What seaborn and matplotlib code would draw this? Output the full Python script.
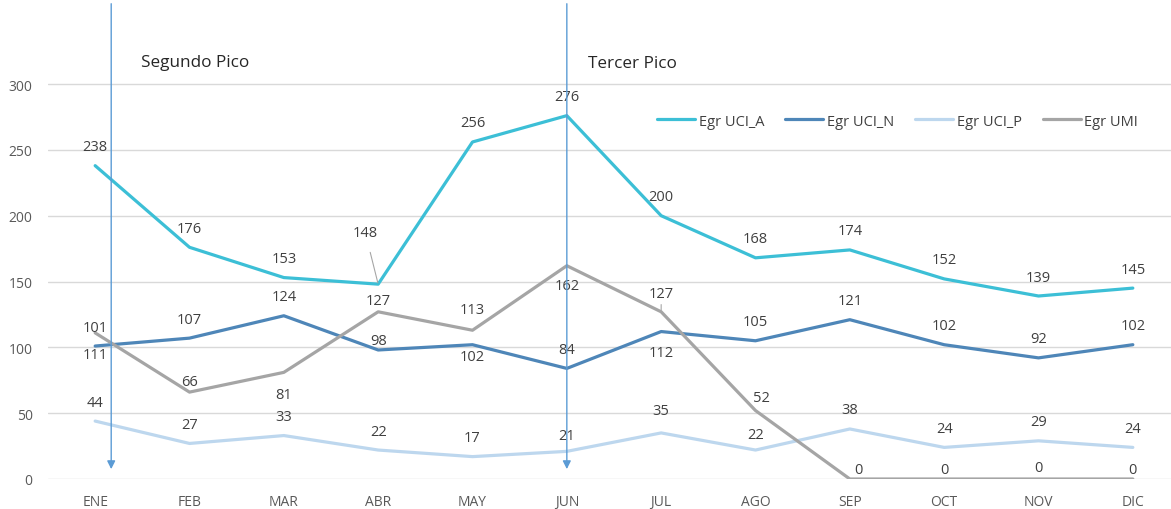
import pandas as pd
import matplotlib
matplotlib.use("Agg")
import matplotlib.pyplot as plt
import seaborn as sns

# Data
months = ["ENE", "FEB", "MAR", "ABR", "MAY", "JUN", "JUL", "AGO", "SEP", "OCT", "NOV", "DIC"]
egr_uci_a = [238, 176, 153, 148, 256, 276, 200, 168, 174, 152, 139, 145]
egr_uci_n = [101, 107, 124, 98, 102, 84, 112, 105, 121, 102, 92, 102]
egr_uci_p = [44, 27, 33, 22, 17, 21, 35, 22, 38, 24, 29, 24]
egr_umi = [111, 66, 81, 127, 113, 162, 127, 52, 0, 0, 0, 0]
series_names = ["Egr UCI_A", "Egr UCI_N", "Egr UCI_P", "Egr UMI"]
peak_months = ["ENE", "JUN"]
peak_names = ["Segundo Pico", "Tercer Pico"]

colors = ["#3cbfd6", "#4e86b8", "#bdd7ee", "#a5a5a5"]

# label placement: (dx px, dy px) relative to the point, positive dy = above
default_off = (0, 19)
label_off = {
    ("Egr UCI_A", "ABR"): (-13, 52),
    ("Egr UCI_N", "ABR"): (0, 9),
    ("Egr UCI_N", "MAY"): (0, -12),
    ("Egr UCI_N", "JUL"): (0, -21),
    ("Egr UCI_P", "JUN"): (0, 16),
    ("Egr UCI_P", "JUL"): (0, 22),
    ("Egr UCI_P", "AGO"): (0, 16),
    ("Egr UMI", "ENE"): (0, -22),
    ("Egr UMI", "FEB"): (0, 11),
    ("Egr UMI", "MAR"): (0, -22),
    ("Egr UMI", "ABR"): (0, 11),
    ("Egr UMI", "MAY"): (0, 21),
    ("Egr UMI", "JUN"): (0, -20),
    ("Egr UMI", "JUL"): (0, 18),
    ("Egr UMI", "AGO"): (6, 13),
    ("Egr UMI", "SEP"): (9, 9),
    ("Egr UMI", "OCT"): (0, 9),
    ("Egr UMI", "NOV"): (0, 11),
    ("Egr UMI", "DIC"): (0, 9),
}
leaders = [("Egr UCI_A", "ABR"), ("Egr UMI", "MAY"), ("Egr UMI", "JUL")]

values = [egr_uci_a, egr_uci_n, egr_uci_p, egr_umi]
df = pd.DataFrame({
    "idx": list(range(len(months))) * len(series_names),
    "mes": months * len(series_names),
    "serie": [s for s in series_names for _ in months],
    "valor": [v for vals in values for v in vals],
})

sns.set_style("white")
plt.rcParams["font.family"] = ["Open Sans", "DejaVu Sans"]

fig = plt.figure(figsize=(11.71, 5.10), dpi=100)
ax = fig.add_axes([48 / 1171, 30 / 510, 1132 / 1171, 480 / 510])

sns.lineplot(data=df, x="idx", y="valor", hue="serie", hue_order=series_names,
             palette=colors, linewidth=2.3, ax=ax, sort=False)

ax.set_xlim(-0.5, 11.5)
ax.set_ylim(0, 364.6)
ax.set_yticks(range(0, 301, 50))
ax.set_xticks(range(len(months)))
ax.set_xticklabels(months)
ax.set_xlabel("")
ax.set_ylabel("")
ax.grid(axis="y", color="#d9d9d9", linewidth=1)
ax.set_axisbelow(True)
for sp in ax.spines.values():
    sp.set_visible(False)
ax.tick_params(axis="both", length=0, labelsize=10, colors="#595959")
ax.tick_params(axis="x", pad=11)
ax.tick_params(axis="y", pad=11)

# data labels
px = 0.72
for name, vals in zip(series_names, values):
    for i, (m, v) in enumerate(zip(months, vals)):
        dx, dy = label_off.get((name, m), default_off)
        kw = {}
        if (name, m) in leaders:
            kw["arrowprops"] = dict(arrowstyle="-", color="#a6a6a6", lw=0.8,
                                    shrinkA=7, shrinkB=1)
        ax.annotate(str(v), (i, v), xytext=(dx * px, dy * px), textcoords="offset points",
                    ha="center", va="center", fontsize=10.5, color="#404040", **kw)

# peak markers
peak_dx = [0.17, 0.0]
text_dx = [0.32, 0.22]
text_y = [317, 316]
for m, txt, d, tdx, ty in zip(peak_months, peak_names, peak_dx, text_dx, text_y):
    xi = months.index(m) + d
    ax.annotate("", xy=(xi, 7.5), xytext=(xi, 361),
                arrowprops=dict(arrowstyle="-|>", color="#5b9bd5", lw=1.0,
                                mutation_scale=12, shrinkA=0, shrinkB=0))
    ax.text(xi + tdx, ty, txt, fontsize=12.3, color="#262626", va="center", ha="left")

handles, labels = ax.get_legend_handles_labels()
ax.legend(handles, labels, loc="center left", bbox_to_anchor=(657 / 1171, 1 - 122 / 510),
          bbox_transform=fig.transFigure, ncol=4, frameon=False, fontsize=10.5,
          handlelength=2.6, handletextpad=0.25, columnspacing=1.45,
          borderpad=0, borderaxespad=0, labelcolor="#404040")

fig.savefig("out.png", dpi=100)
